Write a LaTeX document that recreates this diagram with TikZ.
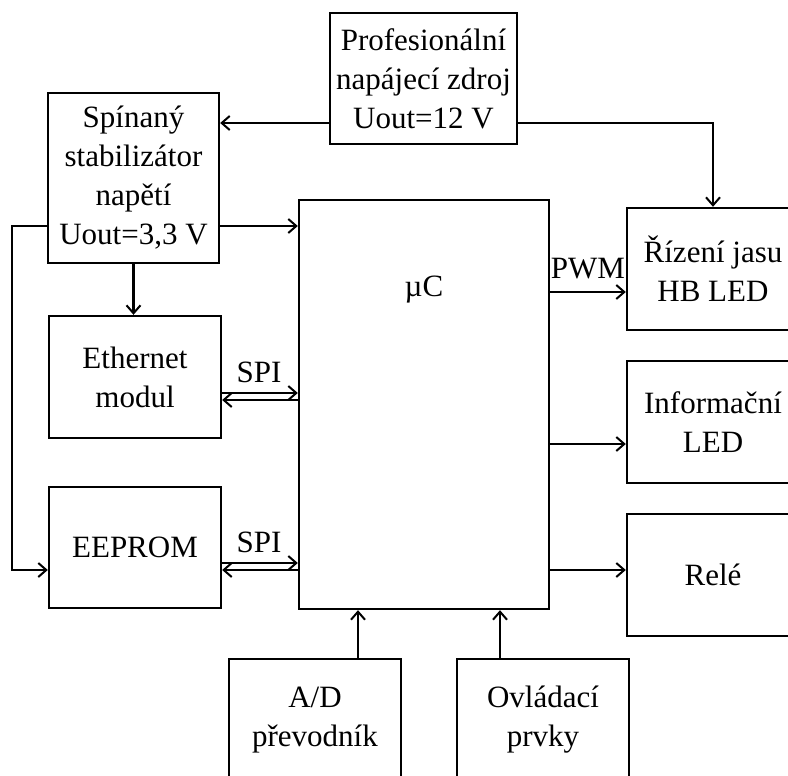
\documentclass[tikz,border=0pt]{standalone}
\usepackage{fontspec}
\setmainfont{Liberation Serif}
\usetikzlibrary{arrows.meta}

\tikzset{%
    blok/.style = {%
        draw,
        line width = 1.2pt,
        minimum width = 86pt,
        minimum height = 61pt,
        inner sep = 0pt,
        align = center,
        font = \fontsize{15.5}{19.5}\selectfont,
    },
    spoj/.style = {%
        line width = 1.4pt,
        -{Straight Barb[length = 4pt, width = 7pt, line width = 1pt]},
    },
    popis/.style = {font = \fontsize{15.5}{19.5}\selectfont, inner sep = 0pt},
}

\begin{document}
\begin{tikzpicture}[x = 0.5pt, y = -0.5pt]

        % The frame of the picture; the right and bottom boxes run past it.
        \clip (0, 0) rectangle (788, 776);

        % Blocks.
        \node[blok, minimum width = 93.5pt, minimum height = 65.5pt] (zdroj) at (423.5, 78.5)
            {Profesionální\\napájecí zdroj\\Uout=12 V};
        \node[blok, minimum width = 85.5pt, minimum height = 85pt] (stab) at (133.5, 178)
            {Spínaný\\stabilizátor\\napětí\\Uout=3,3 V};
        \node[blok, minimum width = 125pt, minimum height = 204.5pt] (mcu) at (424, 404.5) {};
        \node[popis] (mcutext) at (424, 290) {µC};
        \node[blok] (eth) at (135, 377) {Ethernet\\modul};
        \node[blok, minimum height = 60.5pt] (eeprom) at (135, 547.5) {EEPROM};
        \node[blok] (jas) at (713, 269) {Řízení jasu\\HB LED};
        \node[blok] (info) at (713, 422) {Informační\\LED};
        \node[blok] (rele) at (713, 575) {Relé};
        \node[blok] (adc) at (315, 720) {A/D\\převodník};
        \node[blok] (ovl) at (543, 720) {Ovládací\\prvky};

        % Power lines.
        \draw[spoj] (zdroj.west |- 0, 123) to (stab.east |- 0, 123);
        \draw[spoj] (zdroj.east |- 0, 123) -| (jas.north);
        \draw[spoj] (stab.east |- 0, 226) to (mcu.west |- 0, 226);
        \draw[spoj] (stab.west |- 0, 226) -- (12, 226) |- (eeprom.west |- 0, 570);
        \draw[spoj] (stab.south) to (stab.south |- eth.north);

        % Buses to the microcontroller.
        \draw[spoj] (eth.east |- 0, 393) to (mcu.west |- 0, 393);
        \draw[spoj] (mcu.west |- 0, 400) to (eth.east |- 0, 400);
        \node[popis] (spi1) at (259, 372) {SPI};
        \draw[spoj] (eeprom.east |- 0, 563) to (mcu.west |- 0, 563);
        \draw[spoj] (mcu.west |- 0, 570) to (eeprom.east |- 0, 570);
        \node[popis] (spi2) at (259, 542) {SPI};

        % Outputs.
        \draw[spoj] (mcu.east |- 0, 292) to (jas.west |- 0, 292);
        \node[popis] (pwm) at (588, 269) {PWM};
        \draw[spoj] (mcu.east |- 0, 444) to (info.west |- 0, 444);
        \draw[spoj] (mcu.east |- 0, 570) to (rele.west |- 0, 570);

        % Inputs.
        \draw[spoj] (adc.north -| 358, 0) to (mcu.south -| 358, 0);
        \draw[spoj] (ovl.north -| 500, 0) to (mcu.south -| 500, 0);
    \end{tikzpicture}
\end{document}
